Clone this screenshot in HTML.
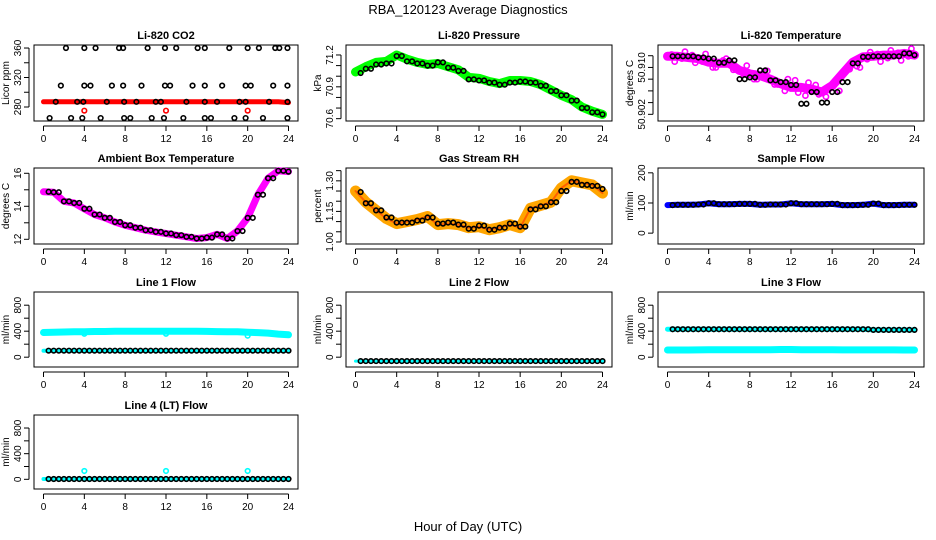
<!DOCTYPE html>
<html><head><meta charset="utf-8">
<style>
html,body{margin:0;padding:0;background:#fff;}
svg{display:block;font-family:"Liberation Sans",Arial,sans-serif;}
</style></head>
<body>
<svg id="chart" width="936" height="540" viewBox="0 0 936 540">
<text x="468" y="14" text-anchor="middle" font-size="13">RBA_120123  Average Diagnostics</text>
<text x="468" y="531" text-anchor="middle" font-size="13">Hour of Day (UTC)</text>
</svg>
<script>
// ---- data ----
const hours = [0,1,2,3,4,5,6,7,8,9,10,11,12,13,14,15,16,17,18,19,20,21,22,23,24];
const xTicks = [0,4,8,12,16,20,24];
const co2Red = [287,287,287,287,287,287,287,287,287,287,287,287,287,287,287,287,287,287,287,287,287,287,287,287,286];
const co2RedOut = [[4,275],[12,275],[20,275]];
const co2Hi = [2.2,4,5.1,7.4,7.8,10.2,11.9,13,15.1,15.8,18.2,20,21.1,22.7,23.1,23.9];
const co2Mid = [1.7,4,4.6,6.7,7.8,9.6,11.9,12.4,14.6,15.8,17.5,19.8,20.3,22.5,23.9];
const co2Low = [1.2,3.3,3.9,6.2,7.9,9.1,11,11.5,14,15.8,17,19.2,19.8,22.1,23.9];
const co2Bot = [0.6,2.7,3.8,5.6,7.9,8.5,10.6,11.8,13.7,15.8,16.4,18.7,19.8,21.5,23.9];
const pressure = [71.04,71.09,71.13,71.14,71.2,71.16,71.13,71.11,71.12,71.09,71.06,70.99,70.98,70.95,70.93,70.96,70.96,70.95,70.92,70.87,70.82,70.78,70.71,70.67,70.64];
const pressBlack = [71.03,71.07,71.11,71.12,71.19,71.14,71.12,71.10,71.13,71.08,71.05,70.97,70.96,70.94,70.92,70.94,70.95,70.94,70.91,70.86,70.82,70.77,70.70,70.66,70.64];
const liTemp = [50.9119,50.9119,50.9117,50.9115,50.9109,50.9107,50.9107,50.9095,50.9089,50.9086,50.9080,50.9072,50.9066,50.9066,50.9063,50.9058,50.9069,50.9089,50.9109,50.9118,50.9119,50.9121,50.9121,50.9124,50.9121];
const liTempScatter = [50.9122,50.9115,50.9121,50.9110,50.9100,50.9112,50.9096,50.9088,50.9080,50.9093,50.9071,50.9060,50.9078,50.9052,50.9070,50.9050,50.9078,50.9096,50.9102,50.9114,50.9123,50.9116,50.9125,50.9119,50.9125];
const liTempBlack = [50.9119,50.9119,50.9119,50.9117,50.9115,50.9108,50.9112,50.9080,50.9083,50.9095,50.9078,50.9075,50.9070,50.9038,50.9058,50.9040,50.9058,50.9075,50.9107,50.9118,50.9119,50.9119,50.9119,50.9124,50.9121];
const ambient = [14.88,14.85,14.3,14.2,13.85,13.5,13.3,13.05,12.85,12.7,12.55,12.45,12.35,12.25,12.15,12.05,12.1,12.3,12.05,12.5,13.3,14.7,15.7,16.15,16.1];
const rh = [1.25,1.195,1.155,1.115,1.09,1.10,1.11,1.125,1.085,1.09,1.085,1.07,1.075,1.06,1.07,1.085,1.07,1.165,1.18,1.195,1.265,1.30,1.29,1.28,1.24];
const rhBlack = [1.245,1.19,1.155,1.12,1.095,1.095,1.105,1.12,1.09,1.095,1.085,1.065,1.08,1.06,1.07,1.09,1.075,1.16,1.175,1.195,1.25,1.295,1.28,1.275,1.26];
const sampleFlow = [93,94,94,95,99,96,96,97,97,94,95,95,99,96,96,96,97,93,93,94,98,93,93,94,94];
const line1Hi = [380,385,388,390,392,395,395,398,398,398,398,398,398,398,398,398,396,394,392,390,385,378,370,355,345];
const line1Lo = [100,100,100,100,100,100,100,100,100,100,100,100,100,100,100,100,100,100,100,100,100,100,100,100,100];
const line2 = [-60,-60,-60,-60,-60,-60,-60,-60,-60,-60,-60,-60,-60,-60,-60,-60,-60,-60,-60,-60,-60,-60,-60,-60,-60];
const line3Hi = [430,430,430,430,430,430,430,430,430,430,430,430,430,430,430,430,430,430,430,430,420,420,420,420,420];
const line3Lo = [110,110,110,112,115,115,115,115,115,115,115,118,118,115,115,115,115,112,112,112,112,112,112,110,110];
const line4 = [5,5,5,5,5,5,5,5,5,5,5,5,5,5,5,5,5,5,5,5,5,5,5,5,5];
const line4Out = [[4,130],[12,130],[20,130]];

// ---- layout ----
const NS = "http://www.w3.org/2000/svg";
const svg = document.getElementById('chart');
const cols = [[34,298],[346,612],[658,924]];
const rows = [[45,121],[168,244],[292,367],[415,489]];
function mk(tag, attrs, parent){ const e=document.createElementNS(NS,tag); for(const k in attrs) e.setAttribute(k,attrs[k]); (parent||svg).appendChild(e); return e; }

function panel(name, title, col, row, vTop, vBot, ticks, labels, ytitle){
  const [L,R]=cols[col], [T,B]=rows[row];
  const g=mk('g',{});
  
  
  const xs=h=>L+9.5+h*(R-L-19)/24;
  const ys=v=>T+(vTop-v)/(vTop-vBot)*(B-T);
  const t=mk('text',{x:(L+R)/2,y:T-6,'text-anchor':'middle','font-size':'11','font-weight':'bold'},g);
  t.textContent=title;
  
  
  const box=mk('rect',{x:L,y:T,width:R-L,height:B-T,fill:'none',stroke:'#000','stroke-width':1},g);
  
  
  const ax=mk('g',{stroke:'#000','stroke-width':1},g);
  
  
  mk('line',{x1:xs(0),x2:xs(24),y1:B+5,y2:B+5},ax);
  xTicks.forEach(h=>{
    mk('line',{x1:xs(h),x2:xs(h),y1:B+5,y2:B+10},ax);
    const tl=mk('text',{x:xs(h),y:B+21,'text-anchor':'middle','font-size':'10',stroke:'none'},ax);
    tl.textContent=h;
  });
  const ay=mk('g',{stroke:'#000','stroke-width':1},g);
  
  
  mk('line',{x1:L-5,x2:L-5,y1:ys(ticks[0]),y2:ys(ticks[ticks.length-1])},ay);
  ticks.forEach((v,i)=>{
    mk('line',{x1:L-10,x2:L-5,y1:ys(v),y2:ys(v)},ay);
    if(labels[i]){
      const tl=mk('text',{x:L-13,y:ys(v),'text-anchor':'middle','font-size':'10',stroke:'none',transform:`rotate(-90 ${L-13} ${ys(v)})`},ay);
      tl.textContent=labels[i];
    }
  });
  const yt=mk('text',{x:L-25,y:(T+B)/2,'text-anchor':'middle','font-size':'10',transform:`rotate(-90 ${L-25} ${(T+B)/2})`},g);
  yt.textContent=ytitle;
  
  
  return {g,xs,ys};
}
function band(p, vals, color, w, name){
  const pts=hours.map((h,i)=>p.xs(h).toFixed(1)+','+p.ys(vals[i]).toFixed(1)).join(' ');
  const e=mk('polyline',{points:pts,fill:'none',stroke:color,'stroke-width':w,'stroke-linejoin':'round','stroke-linecap':'round'},p.g);
  
  
}
function circles(p, pairs, color, name, r){
  const g=mk('g',{fill:'none',stroke:color,'stroke-width':1.6},p.g);
  
  
  pairs.forEach(([h,v])=>{ mk('circle',{cx:p.xs(h),cy:p.ys(v),r:r||2.3},g); });
}
const zip=(vals,off)=>hours.slice(off||0).map((h,i)=>[h,vals[i+(off||0)]]);
function halfZip(vals){ const out=[]; hours.forEach((h,i)=>{ out.push([h,vals[i]]); if(i<hours.length-1) out.push([h+0.5,vals[i]]); }); return out.slice(1); }

// CO2
let p=panel('co2','Li-820 CO2',0,0,364.1,261,[280,300,320,340,360],['280','','320','','360'],'Licor ppm');
band(p,co2Red,'#ff0000',5,'co2-red-band');
circles(p,co2RedOut,'#ff0000','co2-red-outliers');
circles(p,co2Hi.map(h=>[h,360]),'#000','co2-points-360');
circles(p,co2Mid.map(h=>[h,309]),'#000','co2-points-310');
circles(p,co2Low.map(h=>[h,287]),'#000','co2-points-287');
circles(p,co2Bot.map(h=>[h,265]),'#000','co2-points-265');
// Pressure
p=panel('pressure','Li-820 Pressure',1,0,71.294,70.578,[70.6,70.7,70.8,70.9,71.0,71.1,71.2],['70.6','','','70.9','','','71.2'],'kPa');
band(p,pressure,'#00ff00',9,'pressure-green-band');
circles(p,zip(pressBlack,1).concat(zip(pressBlack).map(([h,v])=>[h+0.5,v])).filter(d=>d[0]<=24),'#000','pressure-points');
// Li temp
p=panel('li-temp','Li-820 Temperature',2,0,50.91383,50.90086,[50.902,50.904,50.906,50.908,50.910,50.912],['50.902','','','','50.910',''],'degrees C');
band(p,liTemp,'#ff00ff',9,'li-temp-magenta-band');
circles(p,zip(liTempScatter).map(([h,v])=>[h+0.4,v]).filter(d=>d[0]<=24),'#ff00ff','li-temp-magenta-points',2.6);
circles(p,zip(liTemp).map(([h,v],i)=>[h+0.7,v+(i%2?0.0008:-0.0009)]).filter(d=>d[0]<=24),'#ff00ff','li-temp-magenta-points-2',2.6);
circles(p,zip(liTempBlack,1).concat(zip(liTempBlack).map(([h,v])=>[h+0.5,v])).filter(d=>d[0]<=24),'#000','li-temp-points');
// Ambient
p=panel('ambient','Ambient Box Temperature',0,1,16.32,11.715,[12,13,14,15,16],['12','','14','','16'],'degrees C');
band(p,ambient,'#ff00ff',7,'ambient-magenta-band');
circles(p,zip(ambient,1).concat(zip(ambient).map(([h,v])=>[h+0.5,v])).filter(d=>d[0]<=24),'#000','ambient-points');
// RH
p=panel('rh','Gas Stream RH',1,1,1.363,0.99,[1.00,1.05,1.10,1.15,1.20,1.25,1.30,1.35],['1.00','','','1.15','','','1.30',''],'percent');
band(p,rh,'#ffa500',11,'rh-orange-band');
band(p,rh,'#ff6000',2,'rh-red-speckle');
circles(p,zip(rhBlack,1).concat(zip(rhBlack).map(([h,v])=>[h+0.5,v])).filter(d=>d[0]<=24),'#000','rh-points');
// Sample flow
p=panel('sample-flow','Sample Flow',2,1,216,-36,[0,100,200],['0','100','200'],'ml/min');
band(p,sampleFlow,'#0000ff',6,'sample-flow-blue-band');
circles(p,halfZip(sampleFlow),'#000','sample-flow-points');
const flowTicks=[0,200,400,600,800], flowLabels=['0','','400','','800'];
// Line 1
p=panel('line1','Line 1 Flow',0,2,1003,-151,flowTicks,flowLabels,'ml/min');
band(p,line1Hi,'#00ffff',7,'line1-cyan-band');
band(p,line1Lo,'#00ffff',4,'line1-cyan-low');
circles(p,[[4,360],[12,360],[20,330]],'#00ffff','line1-cyan-outliers');
circles(p,halfZip(line1Lo),'#000','line1-points');
// Line 2
p=panel('line2','Line 2 Flow',1,2,1003,-151,flowTicks,flowLabels,'ml/min');
band(p,line2,'#00ffff',3,'line2-cyan-band');
circles(p,halfZip(line2),'#000','line2-points');
// Line 3
p=panel('line3','Line 3 Flow',2,2,1003,-151,flowTicks,flowLabels,'ml/min');
band(p,line3Hi,'#00ffff',5,'line3-cyan-band');
band(p,line3Lo,'#00ffff',7,'line3-cyan-low');
circles(p,halfZip(line3Hi),'#000','line3-points');
// Line 4
p=panel('line4','Line 4 (LT) Flow',0,3,1003,-151,flowTicks,flowLabels,'ml/min');
band(p,line4,'#00ffff',4,'line4-cyan-band');
circles(p,line4Out,'#00ffff','line4-cyan-outliers');
circles(p,halfZip(line4),'#000','line4-points');
</script>
</body></html>
